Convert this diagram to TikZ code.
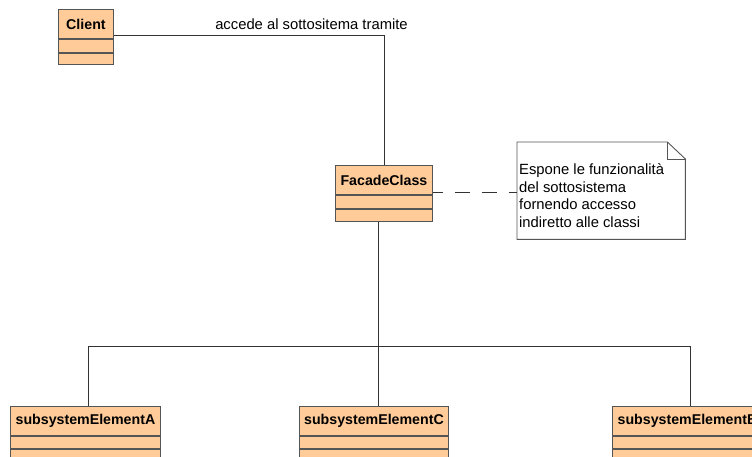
\documentclass[tikz,border=0pt]{standalone}
\usepackage{fontspec}
\setmainfont{Liberation Sans}
\definecolor{classfill}{HTML}{FFCC99}
\definecolor{boxline}{HTML}{555555}
\definecolor{wire}{HTML}{333333}
\begin{document}
\begin{tikzpicture}[x=1bp,y=-1bp,
  classname/.style={draw=boxline, fill=classfill, line width=0.9bp, inner sep=0pt,
    minimum height=29bp, anchor=north west, font=\fontsize{14.2bp}{17bp}\selectfont\bfseries},
  compartment/.style={draw=boxline, fill=classfill, line width=0.9bp, inner sep=0pt,
    minimum height=#1, anchor=north west},
  conn/.style={draw=wire, line width=0.9bp},
  noteline/.style={draw=wire, line width=0.9bp, dash pattern=on 15bp off 12bp, dash phase=5bp},
  lbl/.style={inner sep=0pt, font=\fontsize{14.8bp}{17.7bp}\selectfont},
]
\clip (0,0) rectangle (752,457);
\fill[white] (0,0) rectangle (752,457);

% Client class
\node[classname, minimum width=55bp] (client) at (58,9) {Client};
\node[compartment=13bp, minimum width=55bp] (clientA) at (client.south west) {};
\node[compartment=11bp, minimum width=55bp] (clientO) at (clientA.south west) {};

% Facade class
\node[classname, minimum width=97bp] (facade) at (335,165) {FacadeClass};
\node[compartment=13bp, minimum width=97bp] (facadeA) at (facade.south west) {};
\node[compartment=12bp, minimum width=97bp] (facadeO) at (facadeA.south west) {};

% Subsystem classes
\node[classname, minimum width=150bp] (subA) at (10,406) {subsystemElementA};
\node[compartment=12bp, minimum width=150bp] (subAa) at (subA.south west) {};
\node[compartment=12bp, minimum width=150bp] (subAo) at (subAa.south west) {};

\node[classname, minimum width=149bp] (subC) at (299,406) {subsystemElementC};
\node[compartment=12bp, minimum width=149bp] (subCa) at (subC.south west) {};
\node[compartment=12bp, minimum width=149bp] (subCo) at (subCa.south west) {};

\node[classname, minimum width=150bp] (subB) at (612,406) {subsystemElementB};
\node[compartment=12bp, minimum width=150bp] (subBa) at (subB.south west) {};
\node[compartment=12bp, minimum width=150bp] (subBo) at (subBa.south west) {};

% Note
\node[inner sep=0pt, minimum width=168bp, minimum height=97bp, anchor=north west] (note) at (517,142) {};
\draw[draw=boxline, fill=white, line width=0.9bp]
  (note.north west) -- ([xshift=-18bp]note.north east) -- ([yshift=-17bp]note.north east)
  -- (note.south east) -- (note.south west) -- cycle;
\draw[draw=boxline, line width=0.9bp]
  ([xshift=-18bp]note.north east) -- ([xshift=-18bp,yshift=-17bp]note.north east)
  -- ([yshift=-17bp]note.north east);
\node[lbl, anchor=north west, align=left] (notetext) at (519,163.5)
  {Espone le funzionalità\\del sottosistema\\fornendo accesso\\indiretto alle classi};

% Client -> Facade association
\coordinate (lvl) at (0,35);
\draw[conn] (client.south east |- lvl) -- (facade.north |- lvl) -- (facade.north);
\node[lbl, anchor=base] (acc) at (311.5,30) {accede al sottositema tramite};

% Facade -> note
\coordinate (nl) at (0,192);
\draw[noteline] (facade.east |- nl) -- (note.west |- nl);

% Facade -> subsystem elements
\coordinate (hub) at (378,346);
\coordinate (busA) at (88,346);
\coordinate (busB) at (690,346);
\draw[conn] (facadeO.south -| hub) -- (hub);
\draw[conn] (busA) -- (busB);
\draw[conn] (busA) -- (subA.north -| busA);
\draw[conn] (hub) -- (subC.north -| hub);
\draw[conn] (busB) -- (subB.north -| busB);
\end{tikzpicture}
\end{document}
